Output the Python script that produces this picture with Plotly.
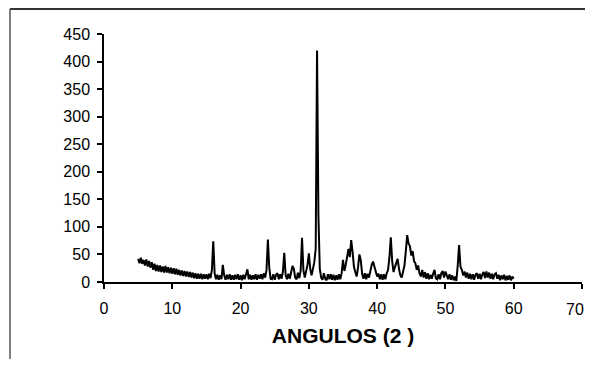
import numpy as np
import plotly.graph_objects as go

# XRD scan: 2-theta from 5.0 to 60.0 deg, step 0.2 deg
x_start = 5.0
x_step = 0.2
intensity = [
    42, 34, 44, 33, 40,   # 5
    30, 41, 28, 38, 26,   # 6
    36, 22, 33, 20, 31,   # 7
    19, 30, 18, 28, 17,   # 8
    29, 17, 27, 16, 26,   # 9
    15, 25, 14, 24, 13,   # 10
    22, 12, 21, 11, 20,   # 11
    10, 19, 9, 18, 8,     # 12
    17, 7, 16, 6, 15,     # 13
    6, 15, 5, 14, 6,      # 14
    14, 5, 15, 7, 22,     # 15
    74, 16, 5, 13, 4,     # 16
    12, 5, 31, 12, 4,     # 17
    13, 5, 14, 4, 12,     # 18
    4, 13, 5, 14, 4,      # 19
    12, 3, 13, 5, 12,     # 20
    23, 5, 13, 4, 12,     # 21
    5, 14, 4, 13, 6,      # 22
    14, 5, 16, 8, 22,     # 23
    77, 26, 6, 5, 14,     # 24
    4, 13, 16, 5, 14,     # 25
    6, 19, 53, 12, 5,     # 26
    15, 6, 19, 29, 24,    # 27
    8, 5, 17, 7, 20,      # 28
    80, 22, 8, 20, 31,    # 29
    52, 24, 12, 22, 36,   # 30
    60, 420, 120, 24, 8,  # 31
    4, 16, 6, 3, 14,      # 32
    5, 14, 4, 13, 3,      # 33
    12, 4, 14, 5, 16,     # 34
    40, 20, 31, 45, 60,   # 35
    45, 76, 55, 28, 18,   # 36
    10, 26, 50, 40, 15,   # 37
    6, 16, 5, 15, 8,      # 38
    22, 31, 37, 26, 18,   # 39
    10, 15, 5, 14, 4,     # 40
    14, 5, 16, 22, 45,    # 41
    81, 38, 18, 27, 35,   # 42
    42, 24, 12, 8, 19,    # 43
    30, 56, 85, 70, 65,   # 44
    48, 56, 38, 34, 22,   # 45
    30, 16, 10, 22, 8,    # 46
    18, 6, 16, 5, 13,     # 47
    6, 15, 22, 7, 5,      # 48
    14, 5, 16, 20, 8,     # 49
    19, 12, 5, 14, 4,     # 50
    12, 3, 10, 2, 30,     # 51
    67, 28, 22, 12, 19,   # 52
    8, 17, 6, 15, 5,      # 53
    14, 4, 13, 16, 6,     # 54
    15, 5, 14, 18, 7,     # 55
    19, 8, 17, 6, 15,     # 56
    5, 14, 16, 6, 13,     # 57
    3, 12, 5, 13, 3,      # 58
    11, 4, 12, 3, 10,     # 59
    6,                    # 60
]
two_theta = np.round(x_start + x_step * np.arange(len(intensity)), 2)

x_tick_vals = [0, 10, 20, 30, 40, 50, 60, 70]
y_tick_vals = [0, 50, 100, 150, 200, 250, 300, 350, 400, 450]
x_title = "ANGULOS (2 )"

fig = go.Figure()
fig.add_trace(go.Scatter(x=two_theta, y=intensity, mode="lines",
                         line=dict(color="black", width=2),
                         showlegend=False, hoverinfo="skip"))

font_family = "Liberation Sans, Arial, sans-serif"
# page body has an 8px margin; height kept inside the window
W, H = 585, 351
L, R, T, B = 96, 11, 26, 77
# the last x tick label is drawn as an annotation so it does not push the margin
x_tick_text = [str(v) for v in x_tick_vals[:-1]] + [""]
fig.update_layout(
    width=W, height=H,
    margin=dict(l=L, r=R, t=T, b=B),
    paper_bgcolor="white", plot_bgcolor="white",
    font=dict(family=font_family, color="black", size=16),
    xaxis=dict(range=[0, 70], tickvals=x_tick_vals, ticktext=x_tick_text,
               showgrid=False, zeroline=False,
               showline=True, linecolor="black", linewidth=1.5,
               ticks="outside", ticklen=5, tickwidth=1.5, tickcolor="black",
               tickfont=dict(size=16), ticklabelstandoff=6,
               title=dict(text="<b>" + x_title + "</b>", font=dict(size=21), standoff=12)),
    yaxis=dict(range=[0, 450], tickvals=y_tick_vals, showgrid=False, zeroline=False,
               showline=True, linecolor="black", linewidth=1.5,
               ticks="outside", ticklen=5, tickwidth=1.5, tickcolor="black",
               tickfont=dict(size=16), ticklabelstandoff=4),
)
fig.add_annotation(x=x_tick_vals[-1], xref="x", xanchor="right", xshift=3,
                   y=0, yref="paper", yanchor="top", yshift=-18,
                   text=str(x_tick_vals[-1]), showarrow=False, borderpad=0,
                   font=dict(size=16, family=font_family, color="black"))

# scanned frame lines (top and left)
pw, ph = W - L - R, H - T - B
fx0 = (2 - L) / pw
fy1 = (H - B - 1) / ph
fy0 = (H - B - H) / ph
fx1 = (W - L) / pw
fig.add_shape(type="line", xref="paper", yref="paper", x0=fx0, x1=fx1, y0=fy1, y1=fy1,
              line=dict(color="#333333", width=2))
fig.add_shape(type="line", xref="paper", yref="paper", x0=fx0, x1=fx0, y0=fy0, y1=fy1,
              line=dict(color="#555555", width=1.5))

fig.write_html("out.html")
